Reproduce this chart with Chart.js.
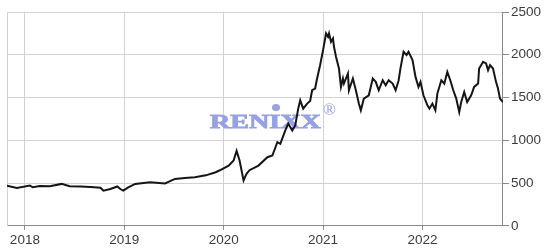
<!DOCTYPE html>
<html>
<head>
<meta charset="utf-8">
<script src="https://cdn.jsdelivr.net/npm/chart.js@4.4.0/dist/chart.umd.min.js"></script>
<style>
  body { margin: 0; background: #fff; }
  #chart { display: block; }
</style>
</head>
<body>
<canvas id="chart" width="550" height="251"></canvas>
<script>
// RENIXX index, readings
var years = [
  2017.82, 2017.92, 2018.05, 2018.08, 2018.15, 2018.25, 2018.37, 2018.45, 2018.56, 2018.66,
  2018.76, 2018.79, 2018.86, 2018.93, 2018.96, 2018.99, 2019.04, 2019.11, 2019.26, 2019.41,
  2019.51, 2019.61, 2019.71, 2019.82, 2019.92, 2019.99, 2020.05, 2020.10, 2020.13, 2020.16,
  2020.20, 2020.23, 2020.26, 2020.35, 2020.44, 2020.49, 2020.54, 2020.57, 2020.62, 2020.65,
  2020.69, 2020.72, 2020.75, 2020.77, 2020.80, 2020.84, 2020.87, 2020.89, 2020.92, 2020.94,
  2020.97, 2021.00, 2021.03, 2021.05, 2021.06, 2021.08, 2021.10, 2021.11, 2021.13, 2021.16,
  2021.18, 2021.20, 2021.21, 2021.25, 2021.26, 2021.30, 2021.33, 2021.36, 2021.38, 2021.41,
  2021.46, 2021.50, 2021.53, 2021.56, 2021.60, 2021.63, 2021.66, 2021.70, 2021.73, 2021.76,
  2021.78, 2021.81, 2021.84, 2021.86, 2021.90, 2021.93, 2021.96, 2021.98, 2022.01, 2022.05,
  2022.07, 2022.10, 2022.13, 2022.15, 2022.19, 2022.22, 2022.25, 2022.28, 2022.31, 2022.34,
  2022.37, 2022.39, 2022.42, 2022.45, 2022.49, 2022.52, 2022.56, 2022.57, 2022.61, 2022.64,
  2022.66, 2022.68, 2022.71, 2022.74, 2022.76, 2022.78, 2022.81
];
var values = [
  470, 442, 470, 450, 465, 462, 490, 462, 460, 455,
  445, 410, 430, 460, 430, 411, 450, 490, 508, 495,
  548, 560, 567, 590, 626, 665, 704, 763, 875, 763,
  530, 607, 650, 704, 802, 822, 978, 959, 1115, 1194,
  1115, 1174, 1370, 1467, 1370, 1429, 1460, 1585, 1605, 1722,
  1878, 2054, 2250, 2211, 2250, 2152, 2191, 2093, 1976, 1839,
  1624, 1722, 1663, 1781, 1585, 1722, 1585, 1429, 1350, 1487,
  1526, 1722, 1683, 1585, 1702, 1643, 1702, 1663, 1585, 1700,
  1850, 2035, 1996, 2035, 1937, 1741, 1624, 1683, 1526, 1409,
  1370, 1429, 1350, 1546, 1702, 1663, 1800, 1702, 1585, 1487,
  1330, 1448, 1565, 1448, 1526, 1624, 1663, 1839, 1917, 1898,
  1820, 1878, 1839, 1683, 1605, 1487, 1448
];
var yearTicks = [2018, 2019, 2020, 2021, 2022];
var valueTicks = [0, 500, 1000, 1500, 2000, 2500];

var points = years.map(function (y, i) { return { x: y, y: values[i] }; });

// watermark + left frame line
var extras = {
  id: 'extras',
  beforeDatasetsDraw: function (chart) {
    var c = chart.ctx, a = chart.chartArea;
    c.save();
    c.strokeStyle = '#d2d2d2';
    c.lineWidth = 1;
    c.beginPath();
    c.moveTo(a.left + 0.5, a.top);
    c.lineTo(a.left + 0.5, a.bottom);
    c.stroke();

    c.fillStyle = 'rgb(150,162,225)';
    c.strokeStyle = 'rgb(150,162,225)';
    c.lineWidth = 0.8;
    c.translate(210, 127.5);
    c.scale(1.56, 1);
    c.font = 'bold 18px "Liberation Serif"';
    c.textBaseline = 'alphabetic';
    c.fillText('RENIXX', 0, 0);
    c.strokeText('RENIXX', 0, 0);
    c.restore();

    c.save();
    c.fillStyle = 'rgb(150,162,225)';
    c.beginPath();
    c.ellipse(276, 107.5, 4, 3.5, 0, 0, Math.PI * 2);
    c.fill();
    c.font = '17px "Liberation Serif"';
    c.textBaseline = 'middle';
    c.fillText('\u00AE', 323, 111);
    c.restore();
  }
};

var ctx = document.getElementById('chart').getContext('2d');

var chart = new Chart(ctx, {
  type: 'line',
  data: {
    datasets: [{
      data: points,
      borderColor: '#151515',
      borderWidth: 2,
      pointRadius: 0,
      tension: 0,
      fill: false
    }]
  },
  options: {
    responsive: false,
    animation: false,
    layout: { padding: { left: 7, top: 12, right: 7, bottom: 1 } },
    plugins: { legend: { display: false }, tooltip: { enabled: false } },
    scales: {
      x: {
        type: 'linear',
        min: 2017.82,
        max: 2022.81,
        afterBuildTicks: function (s) {
          s.ticks = yearTicks.map(function (v) { return { value: v }; });
        },
        grid: { color: '#d2d2d2', tickColor: '#8a8a8a', tickLength: 4 },
        border: { color: '#8a8a8a', width: 1 },
        ticks: {
          padding: 2,
          color: '#3c3c3c',
          font: { family: '"Liberation Sans", Arial', size: 13.5 },
          callback: function (v) { return String(v); }
        }
      },
      y: {
        position: 'right',
        min: 0,
        max: 2500,
        afterBuildTicks: function (s) {
          s.ticks = valueTicks.map(function (v) { return { value: v }; });
        },
        grid: { color: '#d2d2d2', tickColor: '#8a8a8a', tickLength: 6 },
        border: { color: '#8a8a8a', width: 1 },
        ticks: {
          padding: 2,
          color: '#3c3c3c',
          font: { family: '"Liberation Sans", Arial', size: 13.5 },
          callback: function (v) { return String(v); }
        }
      }
    }
  },
  plugins: [extras]
});
</script>
</body>
</html>
